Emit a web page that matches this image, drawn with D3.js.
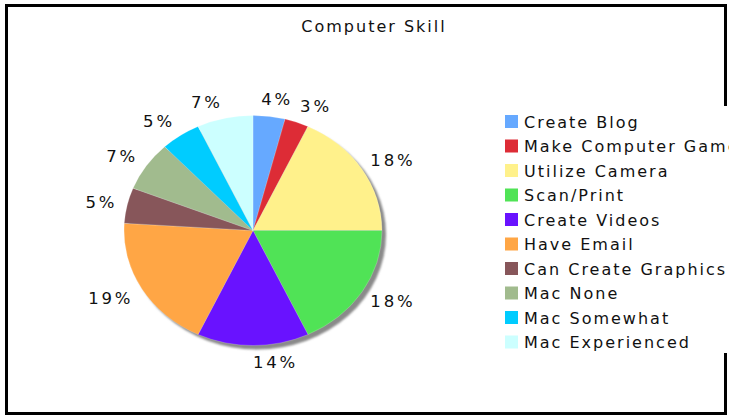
<!DOCTYPE html>
<html>
<head>
<meta charset="utf-8">
<script src="https://cdn.jsdelivr.net/npm/d3@7"></script>
<style>
  html, body { margin: 0; padding: 0; background: #fff; overflow: hidden; }
  svg { display: block; }
</style>
</head>
<body>
<svg id="chart" width="729" height="415"></svg>
<script>
// Computer skill survey, share of responses per skill (percent)
const categories = [
  "Create Blog", "Make Computer Games", "Utilize Camera", "Scan/Print",
  "Create Videos", "Have Email", "Can Create Graphics", "Mac None",
  "Mac Somewhat", "Mac Experienced"
];
const values = [4, 3, 18, 18, 14, 19, 5, 7, 5, 7];
const colors = [
  "#66a9ff", "#dd2c36", "#fff18b", "#50e356", "#6912ff",
  "#ffa645", "#87565a", "#a1bb8e", "#00ccff", "#ccffff"
];
const title = "Computer Skill";

const svg = d3.select("#chart");
const FONT = "DejaVu Sans, Verdana, sans-serif";

// frame
svg.append("rect")
  .attr("x", 6.5).attr("y", 5.5)
  .attr("width", 719).attr("height", 408)
  .attr("fill", "#fff").attr("stroke", "#000").attr("stroke-width", 3);

svg.append("text")
  .attr("x", 374).attr("y", 32)
  .attr("text-anchor", "middle")
  .attr("font-family", FONT)
  .attr("font-size", 16)
  .attr("letter-spacing", 2)
  .attr("fill", "#111")
  .text(title);

// elliptical pie
const cx = 253, cy = 230.5, rx = 129, ry = 115;

const defs = svg.append("defs");
defs.append("filter").attr("id", "soft")
  .attr("x", "-10%").attr("y", "-10%").attr("width", "120%").attr("height", "120%")
  .append("feGaussianBlur").attr("stdDeviation", 0.8);

svg.append("ellipse")
  .attr("cx", cx + 4).attr("cy", cy + 4)
  .attr("rx", rx).attr("ry", ry)
  .attr("fill", "#8a8a8a")
  .attr("filter", "url(#soft)");

const pie = d3.pie().sort(null).value(d => d)
  .startAngle(0).endAngle(2 * Math.PI);
const arcs = pie(values);
const arc = d3.arc().innerRadius(0).outerRadius(rx);

const g = svg.append("g")
  .attr("transform", `translate(${cx},${cy}) scale(1,${ry / rx})`);

g.selectAll("path.slice")
  .data(arcs)
  .join("path")
  .attr("class", "slice")
  .attr("d", arc)
  .attr("fill", (d, i) => colors[i])
  .attr("stroke", "#ffffff")
  .attr("stroke-opacity", 0.35)
  .attr("stroke-width", 0.6);

// percentage labels around the ellipse
const total = d3.sum(values);
const lrx = rx + 10, lry = ry + 17;
const labels = svg.selectAll("text.pct")
  .data(arcs)
  .join("text")
  .attr("class", "pct")
  .each(function (d) {
    const a = (d.startAngle + d.endAngle) / 2;
    const s = Math.sin(a), c = Math.cos(a);
    d3.select(this)
      .attr("x", cx + lrx * s)
      .attr("y", cy - lry * c)
      .attr("text-anchor", s >= -1e-9 ? "start" : "end");
  })
  .attr("dy", "0.36em")
  .attr("font-family", FONT)
  .attr("font-size", 16.5)
  .attr("letter-spacing", 2.8)
  .attr("fill", "#111")
  .text(d => Math.round(d.value / total * 100) + "%");

// keep neighbouring labels apart: push a label left when it runs into the next one
const nodes = labels.nodes();
for (let i = nodes.length - 2; i >= 0; i--) {
  const a = nodes[i].getBBox(), b = nodes[i + 1].getBBox();
  const vOverlap = a.y < b.y + b.height && b.y < a.y + a.height;
  const gap = 7;
  if (vOverlap && a.x < b.x && a.x + a.width > b.x - gap) {
    const shift = a.x + a.width - (b.x - gap);
    nodes[i].setAttribute("x", +nodes[i].getAttribute("x") - shift);
  }
}

// legend (white panel over the frame)
const lx = 505, ly = 115, step = 24.5, box = 13;
svg.append("rect")
  .attr("x", 497).attr("y", 106)
  .attr("width", 240).attr("height", 247)
  .attr("fill", "#fff");
const rows = svg.append("g").selectAll("g.row")
  .data(categories)
  .join("g")
  .attr("class", "row")
  .attr("transform", (d, i) => `translate(${lx},${ly + i * step})`);
rows.append("rect")
  .attr("width", box).attr("height", box)
  .attr("fill", (d, i) => colors[i]);
rows.append("text")
  .attr("x", 19).attr("y", 12.5)
  .attr("font-family", FONT)
  .attr("font-size", 16)
  .attr("letter-spacing", 2)
  .attr("fill", "#111")
  .text(d => d);
</script>
</body>
</html>
